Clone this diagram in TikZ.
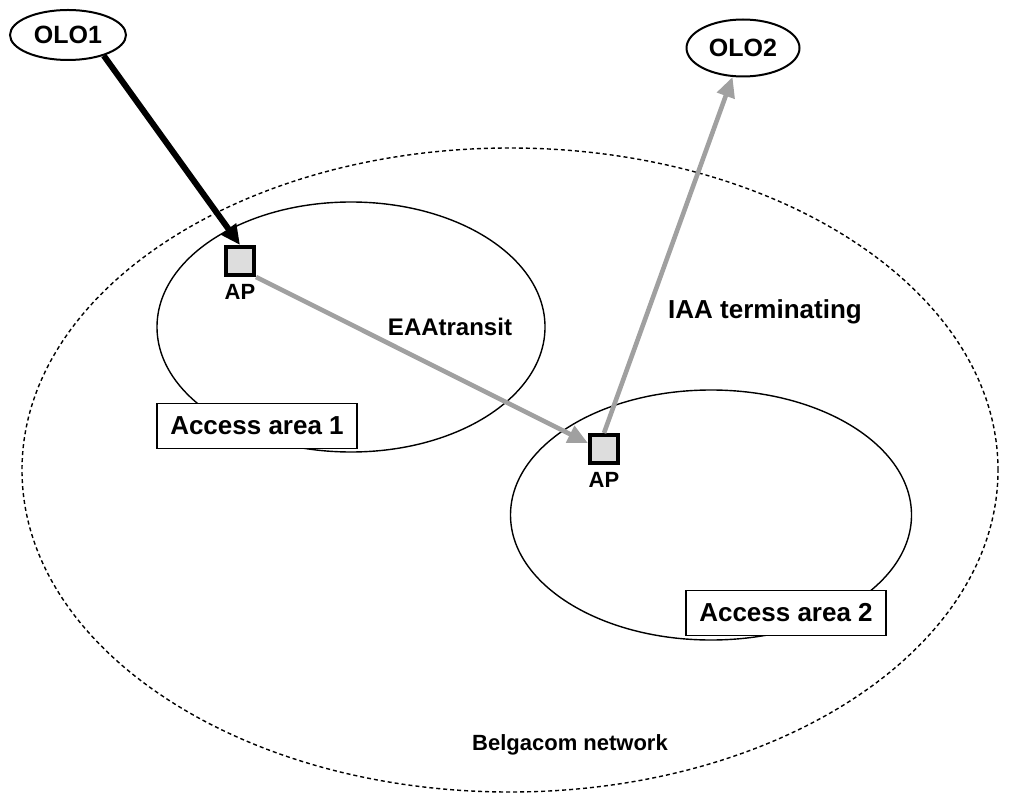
\documentclass[tikz,border=0pt]{standalone}
\usepackage{fontspec}
\setmainfont{Liberation Sans}
\usepackage{tikz}
\definecolor{apgrey}{HTML}{DDDDDD}
\definecolor{linkgrey}{HTML}{A0A0A0}
\usetikzlibrary{positioning, arrows.meta, shapes.geometric}
\tikzstyle{arrow} = [line width=2.3pt,-{Triangle[length=10pt,width=9pt]}]

\begin{document}
\begin{tikzpicture}[x=0.5pt,y=-0.5pt]
                    \tikzstyle{every node}=[font=\fontsize{12}{14}\selectfont\bfseries]
                    \tikzstyle{area} = [ellipse, draw=black, inner sep=0pt]
                    \tikzstyle{olo} = [ellipse, draw=black, line width=1pt, inner sep=0pt, font=\fontsize{12.5}{14}\selectfont\bfseries]
                    \tikzstyle{apbox} = [rectangle, draw=black, fill=apgrey, line width=2pt, minimum size=14pt, inner sep=0pt]
                    \tikzstyle{areabox} = [rectangle, draw=black, fill=white, line width=0.7pt, minimum width=100pt, minimum height=22.5pt, font=\fontsize{13}{15}\selectfont\bfseries]
                    \tikzstyle{small} = [font=\fontsize{11}{13}\selectfont\bfseries]

                    \useasboundingbox (0,0) rectangle (1010,796);

                    % network and access areas
                    \node[area, line width=0.7pt, dash pattern=on 2pt off 1.5pt, minimum width=488pt, minimum height=322pt](belgacom) at (510,470) {};
                    \node[area, line width=0.7pt, minimum width=194pt, minimum height=125pt](area1) at (351,327) {};
                    \node[area, line width=0.7pt, minimum width=200.5pt, minimum height=125pt](area2) at (711,515) {};

                    \node[areabox](box1) at (257,426) {Access area 1};
                    \node[areabox](box2) at (786,613) {Access area 2};

                    \node[olo, minimum width=58pt, minimum height=25pt](olo1) at (68,35) {OLO1};
                    \node[olo, minimum width=56.5pt, minimum height=28.5pt](olo2) at (743,48) {OLO2};

                    \node[apbox](ap1) at (240,261) {};
                    \node[apbox](ap2) at (604,449) {};
                    \node[small, below=0pt of ap1](ap1lbl) {AP};
                    \node[small, below=0pt of ap2](ap2lbl) {AP};

                    \draw[arrow, line width=3pt, black] (olo1.-30) -- (ap1.north);
                    \draw[arrow, linkgrey] (ap1.south east) -- (ap2.160);
                    \draw[arrow, linkgrey] (ap2.north) -- (olo2);

                    \node(eaa) at (450,327) {EAAtransit};
                    \node[font=\fontsize{13}{15}\selectfont\bfseries](iaa) at (765,312) {IAA terminating};
                    \node[small](net) at (570,745) {Belgacom network};

            \end{tikzpicture}
\end{document}
